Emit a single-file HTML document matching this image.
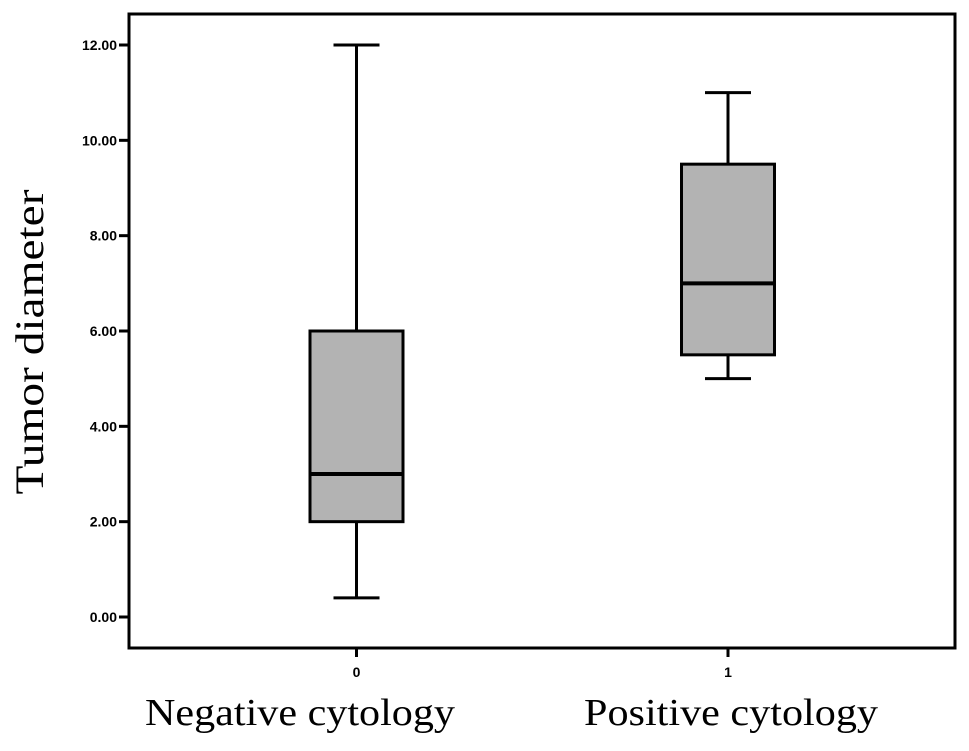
<!DOCTYPE html>
<html><head><meta charset="utf-8"><style>body{margin:0;background:#fff}svg{display:block}</style></head>
<body>
<svg id="chart" width="969" height="751" viewBox="0 0 969 751" xmlns="http://www.w3.org/2000/svg">
<rect x="0" y="0" width="969" height="751" fill="#fff"/>
<g id="marks"></g>
<text transform="translate(43,342) rotate(-90)" text-anchor="middle" font-family="Liberation Serif, serif" font-size="40" textLength="305" lengthAdjust="spacingAndGlyphs">Tumor diameter</text>
<text x="145" y="725" font-family="Liberation Serif, serif" font-size="38" textLength="310" lengthAdjust="spacingAndGlyphs">Negative cytology</text>
<text x="584" y="725" font-family="Liberation Serif, serif" font-size="38" textLength="294" lengthAdjust="spacingAndGlyphs">Positive cytology</text>
</svg>
<script>
const categories = ["0", "1"];
const mins = [0.4, 5];
const q1s = [2, 5.5];
const medians = [3, 7];
const q3s = [6, 9.5];
const maxs = [12, 11];
const yTicks = [0, 2, 4, 6, 8, 10, 12];
const yTickLabels = ["0.00", "2.00", "4.00", "6.00", "8.00", "10.00", "12.00"];

const L = 129, R = 955, T = 14, B = 648;
const y = v => 617 - v * (572 / 12);
const xCenters = [356.5, 728];
const x = i => xCenters[i];
const NS = "http://www.w3.org/2000/svg";
const g = document.getElementById("marks");
function mk(tag, attrs) { const e = document.createElementNS(NS, tag); for (const k in attrs) e.setAttribute(k, attrs[k]); g.appendChild(e); return e; }

let f = mk("rect", {x: L, y: T, width: R - L, height: B - T, fill: "none", stroke: "#000", "stroke-width": 3});



yTicks.forEach((v, i) => {
  let t = mk("line", {x1: L - 10, x2: L, y1: y(v), y2: y(v), stroke: "#000", "stroke-width": 3});
  
  
  let l = mk("text", {x: L - 12, y: y(v) + 5, "text-anchor": "end", "font-family": "Liberation Sans, sans-serif", "font-size": 14, "font-weight": "bold"});
  l.textContent = yTickLabels[i];
  
  
});

categories.forEach((c, i) => {
  const cx = x(i);
  let t = mk("line", {x1: cx, x2: cx, y1: B, y2: B + 9, stroke: "#000", "stroke-width": 3});
  
  
  let l = mk("text", {x: cx, y: B + 29, "text-anchor": "middle", "font-family": "Liberation Sans, sans-serif", "font-size": 14, "font-weight": "bold"});
  l.textContent = c;
  
  

  let w = mk("line", {x1: cx, x2: cx, y1: y(maxs[i]), y2: y(mins[i]), stroke: "#000", "stroke-width": 3});
  
  
  [maxs[i], mins[i]].forEach(v => {
    let cap = mk("line", {x1: cx - 23, x2: cx + 23, y1: y(v), y2: y(v), stroke: "#000", "stroke-width": 3});
    
    
  });
  let b = mk("rect", {x: cx - 46.5, y: y(q3s[i]), width: 93, height: y(q1s[i]) - y(q3s[i]), fill: "#b3b3b3", stroke: "#000", "stroke-width": 3});
  
  
  let m = mk("line", {x1: cx - 46.5, x2: cx + 46.5, y1: y(medians[i]), y2: y(medians[i]), stroke: "#000", "stroke-width": 4});
  
  
});
</script>
</body></html>
